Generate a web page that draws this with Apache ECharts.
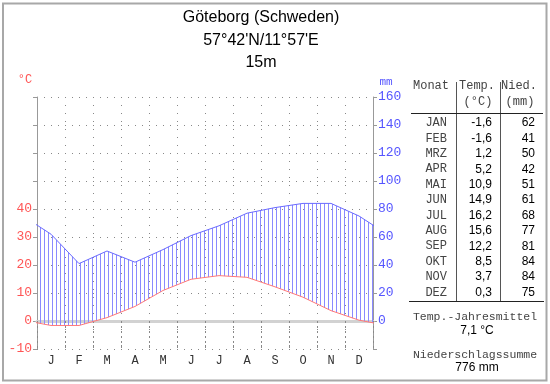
<!DOCTYPE html>
<html><head><meta charset="utf-8">
<script src="https://cdn.jsdelivr.net/npm/echarts@6/dist/echarts.min.js"></script>
<style>html,body{margin:0;padding:0;background:#fff}#c{width:550px;height:384px}</style>
</head><body><div id="c"></div>
<script>
const titleLines = ["Göteborg (Schweden)", "57°42'N/11°57'E", "15m"];
const months = ['J','F','M','A','M','J','J','A','S','O','N','D'];
const monthAbbr = ['JAN','FEB','MRZ','APR','MAI','JUN','JUL','AUG','SEP','OKT','NOV','DEZ'];
const temps = [-1.6,-1.6,1.2,5.2,10.9,14.9,16.2,15.6,12.2,8.5,3.7,0.3];
const precip = [62,41,50,42,51,61,68,77,81,84,84,75];
const tempLabels = [-10,0,10,20,30,40];
const precipLabels = [0,20,40,60,80,100,120,140,160];

const RED = '#ff5555', BLUE = '#5555ff';
const fmt = v => v.toFixed(1).replace('.', ',');

// periodic data: Dec before Jan, Jan after Dec; the axes clip at 0 and 12
const tempData = [], precData = [], segData = [];
for (let i = -1; i <= 12; i++) {
  const k = (i + 12) % 12;
  tempData.push([i + 0.5, temps[k]]);
  precData.push([i + 0.5, precip[k]]);
}
for (let i = -1; i < 12; i++) {
  const a = (i + 12) % 12, b = (i + 13) % 12;
  // precipitation in °C units (1 °C = 2 mm)
  segData.push([i + 0.5, temps[a], precip[a] / 2, i + 1.5, temps[b], precip[b] / 2]);
}

const pc = document.createElement('canvas');
pc.width = 4; pc.height = 4;
const pctx = pc.getContext('2d');
pctx.fillStyle = '#8a8aff';
pctx.fillRect(0, 0, 1, 4);

const meanT = temps.reduce((a, b) => a + b, 0) / temps.length;
const sumP = precip.reduce((a, b) => a + b, 0);

const mono = 'Liberation Mono';
const sans = 'Liberation Sans';
const graphics = [];
graphics.push({type:'rect', shape:{x:3, y:3.5, width:543.5, height:377}, style:{fill:null, stroke:'#a8a8a8', lineWidth:2}, silent:true});
titleLines.forEach((t, i) => graphics.push({type:'text', x:261, y:18 + i * 22.5, style:{text:t, font:'16px "' + sans + '"', fill:'#000', textAlign:'center', textVerticalAlign:'middle'}}));
graphics.push({type:'text', x:25, y:80, style:{text:'°C', font:'12px "' + mono + '"', fill:RED, textAlign:'center', textVerticalAlign:'middle'}});
graphics.push({type:'text', x:386, y:82, style:{text:'mm', font:'11px "' + mono + '"', fill:BLUE, textAlign:'center', textVerticalAlign:'middle'}});
// table
graphics.push({type:'line', shape:{x1:456.5, y1:82, x2:456.5, y2:301}, style:{stroke:'#555', lineWidth:1}});
graphics.push({type:'line', shape:{x1:500.5, y1:82, x2:500.5, y2:301}, style:{stroke:'#555', lineWidth:1}});
graphics.push({type:'line', shape:{x1:411, y1:113.5, x2:543, y2:113.5}, style:{stroke:'#222', lineWidth:1}});
graphics.push({type:'line', shape:{x1:409, y1:301.5, x2:544, y2:301.5}, style:{stroke:'#222', lineWidth:1}});
const hdr = (t, x, y) => graphics.push({type:'text', x:x, y:y, style:{text:t, font:'12px "' + mono + '"', fill:'#444', textAlign:'center', textVerticalAlign:'middle'}});
hdr('Monat', 431, 86); hdr('Temp.', 477, 86); hdr('(°C)', 478, 102); hdr('Nied.', 519, 86); hdr('(mm)', 520, 102);
monthAbbr.forEach((m, i) => {
  const y = 123 + i * 15.4;
  graphics.push({type:'text', x:447, y:y, style:{text:m, font:'12px "' + mono + '"', fill:'#444', textAlign:'right', textVerticalAlign:'middle'}});
  graphics.push({type:'text', x:492, y:y, style:{text:fmt(temps[i]), font:'12px "' + sans + '"', fill:'#000', textAlign:'right', textVerticalAlign:'middle'}});
  graphics.push({type:'text', x:535, y:y, style:{text:String(precip[i]), font:'12px "' + sans + '"', fill:'#000', textAlign:'right', textVerticalAlign:'middle'}});
});
graphics.push({type:'text', x:475, y:317, style:{text:'Temp.-Jahresmittel', font:'11.5px "' + mono + '"', fill:'#444', textAlign:'center', textVerticalAlign:'middle'}});
graphics.push({type:'text', x:477, y:331, style:{text:fmt(meanT) + ' °C', font:'12px "' + sans + '"', fill:'#000', textAlign:'center', textVerticalAlign:'middle'}});
graphics.push({type:'text', x:475, y:355, style:{text:'Niederschlagssumme', font:'11.5px "' + mono + '"', fill:'#444', textAlign:'center', textVerticalAlign:'middle'}});
graphics.push({type:'text', x:477, y:368, style:{text:sumP + ' mm', font:'12px "' + sans + '"', fill:'#000', textAlign:'center', textVerticalAlign:'middle'}});

const chart = echarts.init(document.getElementById('c'), null, {renderer:'canvas'});
chart.setOption({
  animation:false,
  backgroundColor:'#fff',
  grid:{left:37, right:177, top:97, bottom:35, containLabel:false},
  xAxis:[
    {type:'category', data:months, boundaryGap:true,
     axisLine:{show:true, onZero:true, onZeroAxisIndex:0, lineStyle:{color:'#d2d2d2', width:3}},
     axisTick:{show:true, interval:0, length:28, lineStyle:{color:'#888', type:[2,3]}},
     axisLabel:{margin:6, color:'#333', fontFamily:mono, fontSize:12, interval:0},
     splitLine:{show:false}, z:1},
    {type:'value', min:0, max:12, interval:1, show:true,
     axisLine:{show:false}, axisTick:{show:false}, axisLabel:{show:false},
     splitLine:{show:true, lineStyle:{color:'#888', type:[1,7], width:1}}}
  ],
  yAxis:[
    {type:'value', min:-10, max:80, interval:10, position:'left',
     axisLine:{show:true, lineStyle:{color:'#999'}},
     axisTick:{show:true, length:4, lineStyle:{color:'#999'}},
     axisLabel:{margin:5, color:RED, fontFamily:mono, fontSize:13, showMinLabel:true, showMaxLabel:true,
       formatter: v => tempLabels.indexOf(v) >= 0 ? String(v) : ''},
     splitLine:{show:true, lineStyle:{color:'#888', type:[1,6], width:1}}},
    {type:'value', min:-20, max:160, interval:20, position:'right',
     axisLine:{show:true, lineStyle:{color:'#999'}},
     axisTick:{show:true, length:4, lineStyle:{color:'#999'}},
     axisLabel:{margin:5, color:BLUE, fontFamily:mono, fontSize:13, showMinLabel:true, showMaxLabel:true,
       formatter: v => precipLabels.indexOf(v) >= 0 ? String(v) : ''},
     splitLine:{show:false}}
  ],
  series:[
    {type:'custom', name:'humid', xAxisIndex:1, yAxisIndex:0, data:segData, clip:true, z:2,
     renderItem:(params, api) => {
       const p1 = api.coord([api.value(0), api.value(1)]);
       const p2 = api.coord([api.value(3), api.value(4)]);
       const p3 = api.coord([api.value(3), api.value(5)]);
       const p4 = api.coord([api.value(0), api.value(2)]);
       return {type:'polygon', shape:{points:[p1, p2, p3, p4]},
               style:{fill:{image:pc, repeat:'repeat'}, stroke:null}};
     }},
    {type:'line', name:'temp', xAxisIndex:1, yAxisIndex:0, data:tempData,
     symbol:'none', clip:true, lineStyle:{color:'#ff7878', width:1}, z:4},
    {type:'line', name:'prec', xAxisIndex:1, yAxisIndex:1, data:precData,
     symbol:'none', clip:true, lineStyle:{color:'#6a6aff', width:1}, z:4}
  ],
  graphic:graphics
});
</script></body></html>
